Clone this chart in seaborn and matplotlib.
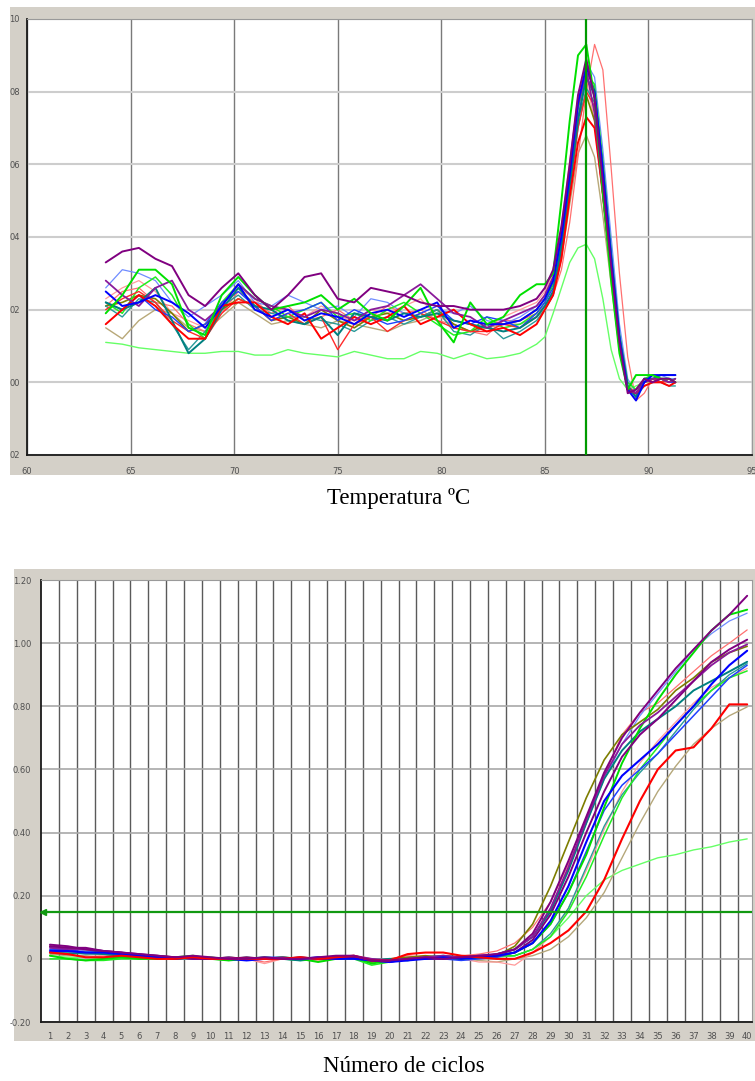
import numpy as np
import matplotlib
matplotlib.use("Agg")
import matplotlib.pyplot as plt
from matplotlib.patches import Rectangle
import seaborn as sns

# ---- melt curve (top) ----
temps = [63.8, 64.6, 65.4, 66.2, 67.0, 67.8, 68.6, 69.4, 70.2, 71.0, 71.8, 72.6, 73.4, 74.2,
         75.0, 75.8, 76.6, 77.4, 78.2, 79.0, 79.8, 80.6, 81.4, 82.2, 83.0, 83.8, 84.6,
         85.0, 85.4, 85.8, 86.2, 86.6, 87.0, 87.4, 87.8, 88.2, 88.6, 89.0, 89.4, 89.8,
         90.2, 90.6, 91.0, 91.3]
melt_purple = [.033, .036, .037, .034, .032, .024, .021, .026, .030, .024, .020, .024, .029, .030, .023, .022, .026, .025, .024, .022, .021, .021, .020, .020, .020, .021, .023,
               .026, .031, .043, .060, .079, .089, .078, .055, .032, .011, -.003, -.002, .001, .000, .001, .001, .000]
melt_purple2 = [.028, .024, .021, .026, .028, .020, .017, .021, .027, .023, .021, .020, .018, .020, .019, .017, .020, .021, .024, .027, .023, .019, .018, .015, .017, .019, .021,
                .024, .029, .041, .058, .076, .086, .074, .052, .030, .010, -.002, -.003, .000, .001, .001, .000, .001]
melt_blue = [.025, .021, .022, .024, .022, .019, .015, .021, .027, .020, .018, .020, .017, .019, .018, .016, .019, .020, .018, .020, .022, .015, .017, .016, .016, .017, .020,
             .023, .028, .040, .057, .077, .087, .080, .058, .034, .012, -.002, -.005, .000, .002, .002, .002, .002]
melt_blue2 = [.022, .020, .024, .020, .018, .014, .016, .022, .025, .021, .017, .019, .020, .022, .017, .020, .018, .016, .017, .019, .021, .017, .016, .018, .017, .015, .019,
              .022, .026, .037, .054, .073, .084, .080, .060, .036, .013, -.001, -.004, .001, .000, .001, .000, .000]
melt_lightblue = [.026, .031, .030, .028, .022, .018, .021, .024, .028, .022, .021, .024, .022, .020, .021, .018, .023, .022, .019, .018, .020, .019, .021, .017, .016, .018, .021,
                  .024, .029, .042, .060, .079, .088, .084, .064, .040, .016, .001, -.003, .001, .000, .002, .001, .001]
melt_red = [.016, .020, .024, .021, .016, .012, .012, .021, .022, .022, .018, .016, .019, .012, .015, .018, .016, .018, .021, .016, .018, .020, .016, .014, .015, .013, .016,
            .020, .024, .034, .051, .066, .073, .070, .052, .030, .010, -.002, -.003, -.001, .000, .000, -.001, .000]
melt_red2 = [.020, .023, .025, .022, .017, .014, .012, .019, .023, .021, .017, .019, .016, .018, .009, .016, .018, .014, .017, .019, .017, .015, .014, .014, .016, .015, .018,
             .021, .025, .036, .053, .070, .080, .076, .056, .033, .012, -.001, -.003, .000, .001, .000, .001, .000]
melt_salmon = [.021, .025, .026, .022, .021, .016, .014, .019, .025, .022, .019, .021, .017, .018, .020, .017, .018, .021, .019, .020, .017, .016, .014, .013, .017, .017, .019,
               .021, .024, .031, .044, .062, .080, .093, .086, .059, .030, .007, -.005, -.003, .001, .000, .000, .001]
melt_salmon2 = [.023, .026, .028, .025, .019, .017, .015, .020, .026, .023, .018, .020, .018, .021, .019, .016, .020, .019, .021, .023, .018, .017, .016, .015, .018, .020, .022,
                .025, .030, .043, .061, .078, .083, .072, .050, .029, .009, -.002, -.002, .000, .001, .001, .000, .000]
melt_green = [.019, .024, .031, .031, .027, .015, .013, .024, .029, .024, .020, .021, .022, .024, .020, .023, .019, .017, .021, .026, .017, .011, .022, .016, .018, .024, .027,
              .027, .030, .050, .072, .090, .093, .078, .052, .028, .008, -.002, .002, .002, .002, .001, .001, .000]
melt_green2 = [.022, .019, .026, .029, .024, .016, .012, .022, .027, .023, .021, .018, .020, .022, .018, .019, .017, .020, .022, .019, .016, .013, .014, .018, .015, .016, .019,
               .022, .027, .039, .056, .075, .085, .082, .061, .036, .013, .000, -.002, .001, .002, .001, .000, .001]
melt_teal = [.022, .020, .022, .026, .017, .008, .012, .020, .026, .021, .020, .017, .016, .018, .013, .019, .018, .017, .019, .018, .019, .017, .016, .015, .014, .015, .018,
             .021, .025, .037, .054, .072, .084, .079, .059, .035, .013, -.001, -.004, .001, .001, .002, .002, .002]
melt_teal2 = [.021, .018, .023, .022, .016, .009, .014, .021, .024, .020, .019, .018, .018, .017, .016, .014, .017, .018, .016, .018, .020, .014, .013, .016, .012, .014, .017,
              .020, .024, .035, .052, .070, .081, .077, .057, .034, .012, -.002, -.004, -.001, .000, .000, -.001, -.001]
melt_olive = [.021, .022, .024, .023, .019, .014, .016, .020, .023, .021, .017, .018, .016, .020, .017, .015, .018, .019, .017, .018, .020, .016, .014, .016, .016, .017, .020,
              .023, .027, .039, .056, .073, .079, .072, .052, .031, .010, -.002, -.003, .000, .001, .000, .001, .000]
melt_khaki = [.015, .012, .017, .020, .019, .015, .014, .018, .022, .019, .016, .017, .016, .015, .017, .016, .015, .014, .016, .017, .019, .015, .014, .015, .016, .016, .018,
              .020, .024, .034, .049, .063, .068, .062, .046, .027, .009, -.002, -.003, .000, .000, .001, .000, .001]
melt_lightgreen = [.011, .0105, .0095, .009, .0085, .008, .008, .0085, .0085, .0075, .0075, .009, .008, .0075, .007, .0085, .0075, .0065, .0065, .0085, .008, .0065, .008, .0065, .007, .008, .0105,
                   .0125, .019, .026, .033, .037, .038, .034, .023, .009, .001, -.002, -.001, .000, .001, .000, .001, .000]
melt_peak = 87.0
temp_ticks = [60, 65, 70, 75, 80, 85, 90, 95]
melt_yticks = [0.10, 0.08, 0.06, 0.04, 0.02, 0.00, -0.02]
melt_ylabels = ["10", "08", "06", "04", "02", "00", "02"]

# ---- amplification (bottom) ----
cycles = list(range(1, 41))
amp_purple = [.045, .04, .03, .025, .02, .015, .01, .005, .01, .005, 0, 0, .005, 0, 0, .005, .01, .01, -.005, -.005, 0, .005, 0, .005, .01, .015,
              .03, .08, .18, .31, .45, .59, .70, .78, .85, .92, .98, 1.04, 1.09, 1.15]
amp_olive = [.04, .035, .03, .02, .015, .01, .01, .005, .005, 0, .005, 0, 0, 0, .005, 0, .005, .005, -.01, 0, .005, .01, .005, 0, .005, .01,
             .04, .11, .23, .37, .51, .63, .71, .75, .79, .85, .89, .94, .97, .99]
amp_green = [.01, 0, -.005, 0, .005, 0, 0, .005, .01, 0, -.005, 0, 0, .005, 0, -.01, 0, .005, -.015, -.005, 0, 0, .005, 0, .005, .01,
             .02, .05, .11, .21, .33, .48, .62, .73, .82, .90, .97, 1.04, 1.09, 1.106]
amp_lightblue = [.035, .035, .025, .02, .02, .015, .01, .005, 0, .005, 0, .005, 0, 0, 0, .005, 0, .005, -.005, 0, .005, 0, 0, .005, .005, .015,
                 .03, .07, .16, .29, .43, .57, .68, .77, .84, .91, .98, 1.03, 1.07, 1.095]
amp_salmon = [.03, .03, .02, .02, .015, .01, .005, 0, .005, 0, 0, 0, -.01, 0, .005, 0, .005, .005, -.005, 0, .01, .005, 0, .01, .015, .025,
              .05, .10, .18, .30, .43, .58, .71, .78, .81, .86, .91, .96, 1.00, 1.042]
amp_purple2 = [.04, .035, .035, .025, .02, .015, .01, .005, 0, 0, 0, .005, 0, 0, .005, 0, 0, .005, -.005, -.01, 0, 0, 0, .005, .01, .01,
               .02, .06, .14, .26, .40, .53, .64, .71, .76, .82, .88, .94, .98, 1.011]
amp_purple3 = [.035, .03, .03, .025, .02, .01, .005, .005, 0, 0, .005, 0, 0, .005, 0, 0, .005, .01, 0, -.005, 0, .005, .01, .005, .01, .015,
               .03, .07, .16, .29, .44, .58, .68, .74, .78, .83, .88, .93, .97, .996]
amp_blue = [.025, .025, .02, .02, .015, .01, .005, 0, .005, 0, 0, -.005, 0, 0, 0, .005, 0, 0, -.005, -.01, -.005, 0, .005, 0, .005, .01,
            .02, .05, .12, .23, .37, .50, .58, .63, .68, .74, .80, .87, .93, .976]
amp_blue2 = [.03, .03, .02, .02, .015, .01, .005, .005, 0, 0, 0, 0, .005, .005, 0, 0, 0, .005, -.005, -.005, 0, 0, 0, -.005, 0, .005,
             .02, .05, .11, .21, .34, .47, .55, .60, .65, .71, .77, .83, .89, .93]
amp_teal = [.02, .015, .02, .015, .01, .01, .005, 0, .005, 0, 0, 0, .005, 0, -.005, 0, .005, .005, -.005, 0, -.005, .005, .01, .005, .005, .015,
            .03, .07, .15, .28, .43, .57, .66, .72, .76, .80, .85, .88, .91, .941]
amp_teal2 = [.02, .02, .015, .015, .01, .005, .005, 0, 0, 0, .005, 0, 0, 0, 0, .005, .005, .005, 0, -.005, 0, .005, .005, 0, .005, .01,
             .01, .03, .08, .16, .29, .42, .52, .59, .65, .72, .79, .85, .90, .935]
amp_salmon2 = [.02, .025, .015, .01, .01, .005, 0, 0, .005, 0, 0, 0, -.015, 0, 0, -.005, .005, .01, 0, -.005, .005, .01, .005, 0, -.01, -.01,
               -.02, .02, .07, .16, .28, .41, .53, .62, .69, .75, .81, .86, .89, .92]
amp_green2 = [0, 0, -.005, -.005, 0, 0, .005, 0, .005, .005, 0, .005, 0, 0, -.005, 0, 0, 0, -.02, -.01, 0, 0, .005, .005, .005, .01,
              .01, .03, .07, .15, .26, .39, .51, .60, .67, .74, .80, .85, .89, .912]
amp_red = [.02, .015, .005, .005, .01, .005, 0, 0, .005, 0, 0, 0, 0, 0, .005, 0, .005, .01, -.005, -.005, .015, .02, .02, .01, .005, 0,
           0, .02, .05, .09, .15, .25, .38, .50, .60, .66, .67, .73, .806, .806]
amp_khaki = [.015, .01, .01, .005, .005, 0, 0, .005, 0, 0, -.005, 0, 0, .005, 0, 0, .005, .005, -.01, 0, 0, .005, 0, 0, -.005, -.01,
             0, .01, .03, .07, .13, .21, .32, .43, .53, .61, .68, .73, .77, .798]
amp_lightgreen = [.01, .005, .005, 0, .005, 0, .005, 0, 0, .005, 0, 0, 0, 0, 0, -.005, 0, 0, -.01, 0, 0, .005, .005, 0, .005, .005,
                  .01, .03, .07, .13, .20, .25, .28, .30, .32, .33, .345, .355, .37, .38]
threshold = 0.15
amp_yticks = [1.20, 1.00, 0.80, 0.60, 0.40, 0.20, 0, -0.20]
amp_ylabels = ["1.20", "1.00", "0.80", "0.60", "0.40", "0.20", "0", "-0.20"]

sns.set_theme(style="white")
plt.rcParams["font.family"] = ["DejaVu Sans"]

W, H = 755, 1081
fig = plt.figure(figsize=(W / 100, H / 100), dpi=100)
frame = "#d4d0c8"
fig.patches.append(Rectangle((10 / W, 1 - 475 / H), 745 / W, 468 / H, transform=fig.transFigure,
                             facecolor=frame, edgecolor="none", zorder=-10))
fig.patches.append(Rectangle((14 / W, 1 - 1041 / H), 741 / W, 472 / H, transform=fig.transFigure,
                             facecolor=frame, edgecolor="none", zorder=-10))

ax1 = fig.add_axes([27 / W, 1 - 455 / H, 725 / W, 436 / H], zorder=2)
ax2 = fig.add_axes([41 / W, 1 - 1022 / H, 711 / W, 442 / H], zorder=2)

melt_series = [
    (melt_lightgreen, "#66ff66", 1.0),
    (melt_khaki, "#b8a878", 1.0),
    (melt_salmon2, "#ff9a9a", 0.9),
    (melt_salmon, "#ff7070", 0.9),
    (melt_lightblue, "#6f8cff", 0.9),
    (melt_olive, "#7d7d00", 1.2),
    (melt_teal2, "#2a9a9a", 1.0),
    (melt_green2, "#22ee22", 1.1),
    (melt_red2, "#ff2a2a", 1.0),
    (melt_blue2, "#2040ff", 1.0),
    (melt_teal, "#008080", 1.4),
    (melt_red, "#ff0000", 1.4),
    (melt_purple2, "#8a1a9a", 1.3),
    (melt_blue, "#0000ff", 1.4),
    (melt_green, "#00e000", 1.4),
    (melt_purple, "#800080", 1.4),
]
for vals, col, lw in melt_series:
    sns.lineplot(x=temps, y=vals, ax=ax1, color=col, lw=lw, legend=False, zorder=3)
ax1.axvline(melt_peak, color="#009a00", lw=1.6, zorder=5)

amp_series = [
    (amp_lightgreen, "#66ff66", 1.0),
    (amp_khaki, "#b5a77a", 1.0),
    (amp_salmon2, "#ff9a9a", 0.9),
    (amp_salmon, "#ff7070", 0.9),
    (amp_lightblue, "#6f8cff", 0.9),
    (amp_olive, "#7d7d00", 1.2),
    (amp_teal2, "#2a9a9a", 1.0),
    (amp_green2, "#22ee22", 1.1),
    (amp_blue2, "#2040ff", 1.1),
    (amp_teal, "#008080", 1.4),
    (amp_green, "#00dd00", 1.4),
    (amp_purple3, "#8a1a9a", 1.3),
    (amp_purple2, "#800080", 1.4),
    (amp_blue, "#0000ff", 1.5),
    (amp_red, "#ff0000", 1.5),
    (amp_purple, "#800080", 1.4),
]
for vals, col, lw in amp_series:
    sns.lineplot(x=cycles, y=vals, ax=ax2, color=col, lw=lw, legend=False, zorder=3)
ax2.axhline(threshold, color="#119911", lw=1.6, zorder=5)
ax2.plot([0.62], [threshold], marker="<", ms=4, color="#119911", zorder=6, clip_on=False)

tick_font = dict(fontsize=6, color="#505050", family="DejaVu Sans")

# top axes
ax1.set_xlim(60, 95)
ax1.set_ylim(-0.02, 0.10)
ax1.set_xticks(temp_ticks)
ax1.set_xticklabels([str(t) for t in temp_ticks], **tick_font)
ax1.set_yticks(melt_yticks)
ax1.set_yticklabels(melt_ylabels, **tick_font)
ax1.tick_params(length=0, pad=5)
ax1.tick_params(axis="x", pad=9)
ax1.grid(axis="y", color="#cdcdcd", lw=1.5, zorder=1)
ax1.grid(axis="x", color="#7a7a7a", lw=1.0, zorder=1)

# bottom axes
ax2.set_xlim(0.5, 40.27)
ax2.set_ylim(-0.20, 1.20)
ax2.set_xticks(cycles)
ax2.set_xticklabels([str(c) for c in cycles], **tick_font)
ax2.set_xticks(np.arange(1.5, 40, 1), minor=True)
ax2.set_yticks(amp_yticks)
ax2.set_yticklabels(amp_ylabels, **tick_font)
ax2.tick_params(which="both", length=0, pad=7)
ax2.tick_params(axis="x", pad=7)
ax2.grid(axis="y", which="major", color="#a8a8a8", lw=1.2, zorder=1)
ax2.grid(axis="x", which="minor", color="#5a5a5a", lw=1.0, zorder=1)
ax2.grid(axis="x", which="major", visible=False)

for ax in (ax1, ax2):
    ax.set_facecolor("white")
    ax.set_xlabel("")
    ax.set_ylabel("")
    ax.set_axisbelow(True)
    for side in ("left", "bottom"):
        ax.spines[side].set_color("#1a1a1a")
        ax.spines[side].set_linewidth(1.3)
    for side in ("top", "right"):
        ax.spines[side].set_color("#9a9a9a")
        ax.spines[side].set_linewidth(0.8)

fig.text(399 / W, 1 - 498 / H, "Temperatura ºC", ha="center", va="center",
         family="Liberation Serif", fontsize=16.5, color="black")
fig.text(404 / W, 1 - 1066 / H, "Número de ciclos", ha="center", va="center",
         family="Liberation Serif", fontsize=16.5, color="black")

fig.savefig("out.png", dpi=100, facecolor="white")
